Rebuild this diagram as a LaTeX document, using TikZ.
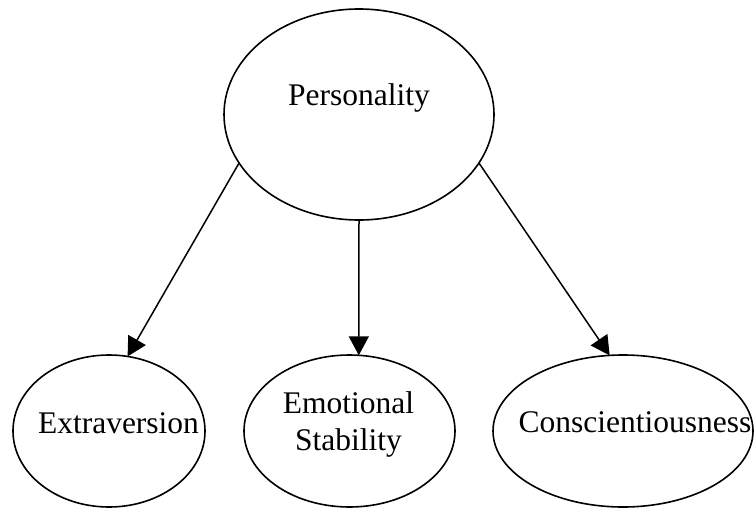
\documentclass[tikz,border=0pt]{standalone}
\usepackage{fontspec}
\setmainfont{Liberation Serif}
\usetikzlibrary{shapes.geometric,arrows.meta}
\begin{document}
\begin{tikzpicture}[x=1pt,y=-1pt,
  oval/.style={draw=black,line width=1.6pt,ellipse,inner sep=0pt,outer sep=0pt},
  caption/.style={inner sep=0pt,font=\fontsize{31.5}{37}\selectfont,align=center},
  link/.style={draw=black,line width=1.5pt,-{Triangle[length=19pt,width=20pt]}}]
  \useasboundingbox (0,0) rectangle (754,508);
  % ovals
  \node[oval,minimum width=270pt,minimum height=211pt] (pers) at (359,114.5) {};
  \node[oval,minimum width=192pt,minimum height=152pt] (extra) at (109,431) {};
  \node[oval,minimum width=211pt,minimum height=152pt] (emo) at (349.5,431) {};
  \node[oval,minimum width=260pt,minimum height=152pt] (consc) at (623,431) {};
  % labels
  \node[caption,anchor=base] (perst) at (359,106) {Personality};
  \node[caption,anchor=base] (extrat) at (118.5,433) {Extraversion};
  \node[caption,anchor=center] (emot) at (348.5,424) {Emotional\\Stability};
  \node[caption,anchor=base] (consct) at (635,432) {Conscientiousness};
  % arrows
  \draw[link] (pers.202.7) -- (extra.76.3);
  \draw[link] (pers.270) -- (emo.83);
  \draw[link] (pers.-22.7) -- (consc.100.9);
\end{tikzpicture}
\end{document}
